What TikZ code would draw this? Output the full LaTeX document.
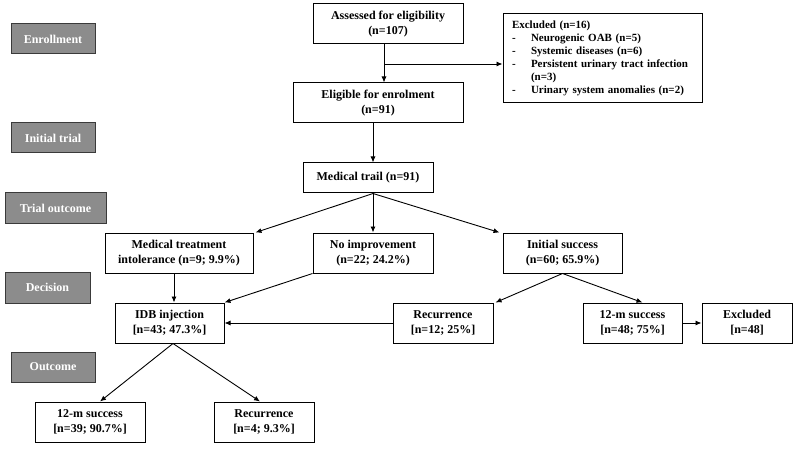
\documentclass[tikz,border=0pt]{standalone}
\usepackage{fontspec}
\setmainfont{Liberation Serif}
\usetikzlibrary{arrows.meta}
\definecolor{lblfill}{HTML}{8C8C8C}
\definecolor{lbldraw}{HTML}{3A3A3A}
\begin{document}
\begin{tikzpicture}[x=1pt,y=-1pt,
  every node/.style={font=\fontsize{12}{15}\selectfont\bfseries},
  box/.style={draw=black,fill=white,line width=1pt,align=center,inner sep=0pt},
  lbl/.style={draw=lbldraw,fill=lblfill,line width=1pt,text=white,align=center,inner sep=0pt,minimum height=30pt},
  arr/.style={line width=0.9pt,-{Latex[length=6pt,width=5pt]}}]
\useasboundingbox (0,0) rectangle (800,449);
\fill[white] (0,0) rectangle (800,449);
% stage labels
\node[lbl,minimum width=84pt] (l1) at (53,39) {Enrollment};
\node[lbl,minimum width=84pt] (l2) at (53,138) {Initial trial};
\node[lbl,minimum width=101pt] (l3) at (55.5,208) {Trial outcome};
\node[lbl,minimum width=85pt,minimum height=31pt] (l4) at (47.5,287.5) {Decision};
\node[lbl,minimum width=84pt] (l5) at (53,367) {Outcome};
% boxes
\node[box,minimum width=150pt,minimum height=40pt] (assess) at (388,24) {Assessed for eligibility\\(n=107)};
\node[box,minimum width=199pt,minimum height=89pt,text width=181pt,inner xsep=9pt,align=left,
  font=\fontsize{11}{13}\selectfont\bfseries] (excl) at (602.5,58.5)
  {Excluded (n=16)\\
   \makebox[19pt][l]{-}Neurogenic OAB (n=5)\\
   \makebox[19pt][l]{-}Systemic diseases (n=6)\\
   \makebox[19pt][l]{-}Persistent urinary tract infection\\
   \makebox[19pt][l]{}(n=3)\\
   \makebox[19pt][l]{-}Urinary system anomalies (n=2)};
\node[box,minimum width=170pt,minimum height=40pt] (elig) at (378,103) {Eligible for enrolment\\(n=91)};
\node[box,minimum width=130pt,minimum height=30pt] (med) at (368,178) {Medical trail (n=91)};
\node[box,minimum width=148pt,minimum height=40pt] (medtreat) at (179,253) {Medical treatment\\intolerance (n=9; 9.9\%)};
\node[box,minimum width=120pt,minimum height=40pt] (noimp) at (373,253) {No improvement\\(n=22; 24.2\%)};
\node[box,minimum width=119pt,minimum height=40pt] (initsucc) at (562.5,253) {Initial success\\(n=60; 65.9\%)};
\node[box,minimum width=109pt,minimum height=40pt] (idb) at (169.5,323) {IDB injection\\{[n=43; 47.3\%]}};
\node[box,minimum width=100pt,minimum height=40pt] (rec12) at (443,323) {Recurrence\\{[n=12; 25\%]}};
\node[box,minimum width=99pt,minimum height=40pt] (succ48) at (632.5,323) {12-m success\\{[n=48; 75\%]}};
\node[box,minimum width=90pt,minimum height=40pt] (excl48) at (747,323) {Excluded\\{[n=48]}};
\node[box,minimum width=110pt,minimum height=40pt] (succ39) at (90,422) {12-m success\\{[n=39; 90.7\%]}};
\node[box,minimum width=100pt,minimum height=40pt] (rec4) at (264,422) {Recurrence\\{[n=4; 9.3\%]}};
% connectors
\coordinate (br) at (384,64);
\draw[arr] ([xshift=-4pt]assess.south) -- ([xshift=6pt]elig.north);
\draw[arr] (br) -- (excl.west |- br);
\draw[arr] ([xshift=-5pt]elig.south) -- ([xshift=5pt]med.north);
\coordinate (ms) at ([xshift=5pt]med.south);
\draw[arr] (ms) -- ([xshift=2pt]medtreat.north east);
\draw[arr] (ms) -- (noimp.north);
\draw[arr] (ms) -- ([xshift=-3pt]initsucc.north west);
\draw[arr] ([xshift=-5pt]medtreat.south) -- ([xshift=4.5pt]idb.north);
\draw[arr] (noimp.south west) -- (idb.north east);
\draw[arr] (initsucc.south) -- ([xshift=2pt]rec12.north east);
\draw[arr] (initsucc.south) -- ([xshift=10pt]succ48.north);
\draw[arr] (rec12.west) -- (idb.east);
\draw[arr] (succ48.east) -- (excl48.west);
\coordinate (is) at ([xshift=3.5pt]idb.south);
\draw[arr] (is) -- ([xshift=10pt]succ39.north);
\draw[arr] (is) -- ([xshift=-4pt]rec4.north);
\end{tikzpicture}
\end{document}
